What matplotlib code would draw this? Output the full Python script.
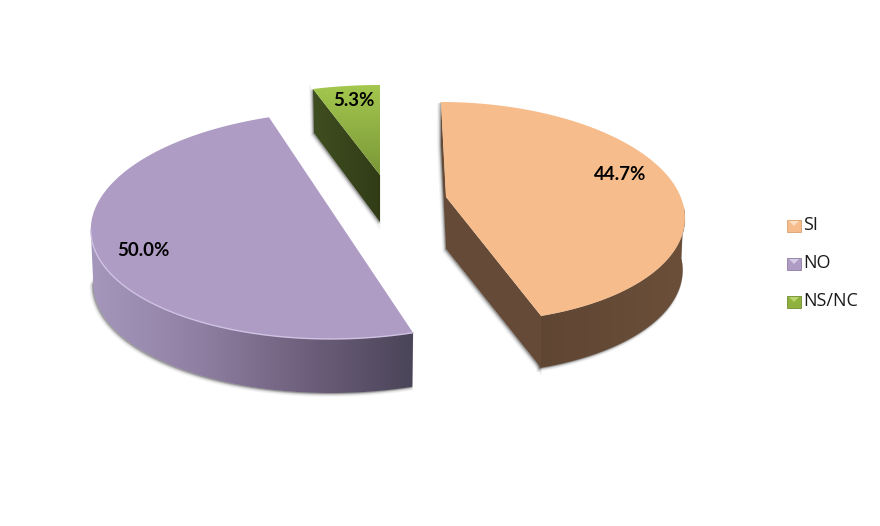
import numpy as np
import matplotlib
matplotlib.use('Agg')
import matplotlib.pyplot as plt
from matplotlib.colors import LinearSegmentedColormap
from matplotlib.patches import Polygon, Rectangle

labels = ['SI', 'NO', 'NS/NC']
values = [44.7, 50.0, 5.3]
value_labels = ['44.7%', '50.0%', '5.3%']

plt.rcParams['font.family'] = ['Open Sans', 'DejaVu Sans']

fig = plt.figure(figsize=(8.8, 5.26), dpi=100)
ax = fig.add_axes([0, 0, 1, 1])
ax.axis('off')


def arc(geo, t0, t1, n=200):
    """points of the ellipse rim, angle in degrees clockwise from the top"""
    t = np.radians(np.linspace(t0, t1, n))
    ex = geo['a'] * np.sin(t)
    ey = -geo['b'] * np.cos(t)
    return np.column_stack([geo['cx'] + ex + geo['k'] * ey, geo['cy'] + ey])


def lower(geo, pts):
    # rim moved down by the wall depth, a bit narrower because of the perspective
    out = pts.copy()
    out[:, 0] = geo['cx'] + (out[:, 0] - geo['cx']) * 0.99
    out[:, 1] += geo['depth']
    return out


def gradient(poly, colors, z, vertical=False):
    """fill a polygon with a linear gradient, clipped image"""
    cmap = LinearSegmentedColormap.from_list('g', colors)
    x0, y0 = poly.min(axis=0)
    x1, y1 = poly.max(axis=0)
    ramp = np.linspace(0, 1, 256)
    ramp = ramp.reshape(-1, 1) if vertical else ramp.reshape(1, -1)
    im = ax.imshow(ramp, cmap=cmap, extent=[x0, x1, y1, y0], aspect='auto',
                   origin='upper', zorder=z, interpolation='bilinear')
    clip = Polygon(poly, closed=True, transform=ax.transData, fc='none', ec='none')
    ax.add_patch(clip)
    im.set_clip_path(clip)


def shadow(poly, z):
    # soft grey edge under the walls
    for grow, al in [(3.0, 0.07), (2.2, 0.10), (1.4, 0.14), (0.7, 0.18)]:
        ax.add_patch(Polygon(poly + [-grow * 0.6, grow * 0.6], closed=True, fc='#555555',
                             ec='#555555', lw=grow, alpha=al, zorder=z))


geos = [
    dict(cx=453.6, cy=212, a=231, b=110, k=0.115, apex=(446, 197), depth=52),
    dict(cx=341, cy=225, a=250, b=114, k=-0.09, apex=(413, 333), depth=54),
    dict(cx=380, cy=158, a=205, b=73, k=0.0, apex=(380, 175), depth=47),
]
ends = np.cumsum(values) / sum(values) * 360
starts = np.concatenate([[0], ends[:-1]])

# SI
g = geos[0]
rim = arc(g, starts[0], ends[0])
apex = np.array(g['apex'], float)
drop = np.array([0, g['depth']])
wall = arc(g, 87, ends[0])
wall_poly = np.vstack([wall, lower(g, wall)[::-1]])
cut_poly = np.array([rim[0], apex, rim[-1], rim[-1] + drop, apex + drop, rim[0] + [0, 43]])
shadow(wall_poly, 1)
shadow(cut_poly, 1)
gradient(wall_poly, ['#5F4633', '#6B4F39'], 2)
ax.add_patch(Polygon(cut_poly, closed=True, fc='#654B37', ec='none', zorder=2))
ax.add_patch(Polygon(np.vstack([apex, rim]), closed=True, fc='#F7BC8B', ec='none', zorder=3))

# NO
g = geos[1]
rim = arc(g, starts[1], ends[1])
drop = np.array([0, g['depth']])
leftmost = 180 + np.degrees(np.arctan(-g['a'] / (g['k'] * g['b'])))
wall = arc(g, starts[1], leftmost)
wall_poly = np.vstack([wall, lower(g, wall)[::-1]])
# shadow stops short of the rim on the left, no step at the tip
shadow(np.vstack([arc(g, starts[1], 250), lower(g, wall)[::-1]]), 1)
gradient(wall_poly, ['#A596BC', '#8F80A3', '#6E5F7C', '#4A4558'], 2)
ax.add_patch(Polygon(rim, closed=True, fc='#AF9CC4', ec='none', zorder=3))
ax.plot(wall[:, 0], wall[:, 1], color='#CFC2E2', lw=1, zorder=4)

# NS/NC
g = geos[2]
rim = arc(g, starts[2], ends[2])
apex = np.array(g['apex'], float)
drop = np.array([0, g['depth']])
cut_poly = np.array([rim[0], apex, apex + drop, rim[0] + [1, 44]])
shadow(cut_poly, 1)
gradient(cut_poly, ['#3F4E20', '#313C17'], 2)
gradient(np.vstack([apex, rim]), ['#A4C74E', '#7A9838'], 3, vertical=True)

# value labels
label_xy = [(620, 174), (143, 251), (354, 100)]
for txt, (x, y) in zip(value_labels, label_xy):
    ax.text(x, y, txt, ha='center', va='center', fontsize=13.5, fontweight='bold',
            family=['Lato', 'DejaVu Sans'], color='black', zorder=6)

# legend
legend_y = [226, 264, 302]
legend_cols = [('#F7BC8B', '#D9A272', '#FBDDC0'), ('#AF9CC4', '#8D7CA3', '#D6CCE4'),
               ('#8FB23F', '#6F8C2E', '#B9D46C')]
for name, y, (mid, edge, light) in zip(labels, legend_y, legend_cols):
    ax.add_patch(Rectangle((787, y - 6), 14, 12, fc=mid, ec=edge, lw=0.6, zorder=5))
    ax.add_patch(Polygon([(789, y - 5), (799, y - 5), (794, y)], closed=True, fc=light,
                         ec='none', zorder=6))
    ax.text(803, y - 1, name, ha='left', va='center', fontsize=13, color='#1a1a1a', zorder=6)

ax.set_xlim(0, 880)
ax.set_ylim(526, 0)
fig.savefig('out.png', dpi=100, facecolor='white')
